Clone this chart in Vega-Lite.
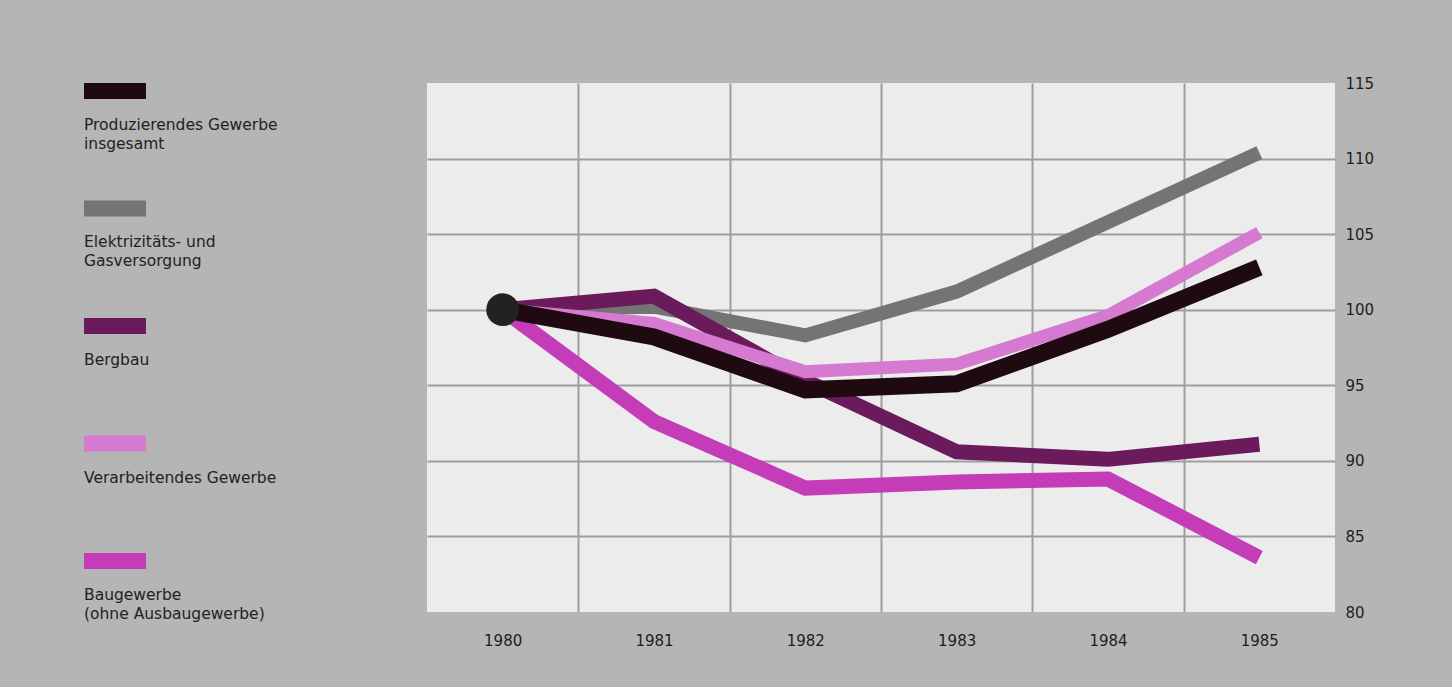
{
  "$schema": "https://vega.github.io/schema/vega-lite/v6.json",
  "background": "#b5b5b5",
  "padding": {"left": 84, "top": 76, "right": 78, "bottom": 39},
  "config": {"view": {"stroke": null}, "font": "DejaVu Sans"},
  "datasets": {
    "legend": [
      {"order": 0, "series": "Produzierendes Gewerbe insgesamt", "line1": "Produzierendes Gewerbe", "line2": "insgesamt"},
      {"order": 1, "series": "Elektrizitäts- und Gasversorgung", "line1": "Elektrizitäts- und", "line2": "Gasversorgung"},
      {"order": 2, "series": "Bergbau", "line1": "Bergbau", "line2": ""},
      {"order": 3, "series": "Verarbeitendes Gewerbe", "line1": "Verarbeitendes Gewerbe", "line2": ""},
      {"order": 4, "series": "Baugewerbe (ohne Ausbaugewerbe)", "line1": "Baugewerbe", "line2": "(ohne Ausbaugewerbe)"}
    ],
    "lines": [
      {"series": "Produzierendes Gewerbe insgesamt", "year": 1980, "value": 100},
      {"series": "Produzierendes Gewerbe insgesamt", "year": 1981, "value": 98.2},
      {"series": "Produzierendes Gewerbe insgesamt", "year": 1982, "value": 94.7},
      {"series": "Produzierendes Gewerbe insgesamt", "year": 1983, "value": 95.1},
      {"series": "Produzierendes Gewerbe insgesamt", "year": 1984, "value": 98.7},
      {"series": "Produzierendes Gewerbe insgesamt", "year": 1985, "value": 102.8},
      {"series": "Elektrizitäts- und Gasversorgung", "year": 1980, "value": 100},
      {"series": "Elektrizitäts- und Gasversorgung", "year": 1981, "value": 100.2},
      {"series": "Elektrizitäts- und Gasversorgung", "year": 1982, "value": 98.3},
      {"series": "Elektrizitäts- und Gasversorgung", "year": 1983, "value": 101.2},
      {"series": "Elektrizitäts- und Gasversorgung", "year": 1984, "value": 105.8},
      {"series": "Elektrizitäts- und Gasversorgung", "year": 1985, "value": 110.4},
      {"series": "Bergbau", "year": 1980, "value": 100},
      {"series": "Bergbau", "year": 1981, "value": 100.9},
      {"series": "Bergbau", "year": 1982, "value": 95.3},
      {"series": "Bergbau", "year": 1983, "value": 90.6},
      {"series": "Bergbau", "year": 1984, "value": 90.1},
      {"series": "Bergbau", "year": 1985, "value": 91.1},
      {"series": "Verarbeitendes Gewerbe", "year": 1980, "value": 100},
      {"series": "Verarbeitendes Gewerbe", "year": 1981, "value": 99.1},
      {"series": "Verarbeitendes Gewerbe", "year": 1982, "value": 95.9},
      {"series": "Verarbeitendes Gewerbe", "year": 1983, "value": 96.4},
      {"series": "Verarbeitendes Gewerbe", "year": 1984, "value": 99.6},
      {"series": "Verarbeitendes Gewerbe", "year": 1985, "value": 105.1},
      {"series": "Baugewerbe (ohne Ausbaugewerbe)", "year": 1980, "value": 100},
      {"series": "Baugewerbe (ohne Ausbaugewerbe)", "year": 1981, "value": 92.6},
      {"series": "Baugewerbe (ohne Ausbaugewerbe)", "year": 1982, "value": 88.2},
      {"series": "Baugewerbe (ohne Ausbaugewerbe)", "year": 1983, "value": 88.6},
      {"series": "Baugewerbe (ohne Ausbaugewerbe)", "year": 1984, "value": 88.8},
      {"series": "Baugewerbe (ohne Ausbaugewerbe)", "year": 1985, "value": 83.6}
    ]
  },
  "spacing": 43,
  "hconcat": [
    {
      "width": 300,
      "height": 529,
      "data": {"name": "legend"},
      "encoding": {
        "y": {"field": "order", "type": "quantitative", "scale": {"domain": [-0.068, 4.434], "reverse": true, "nice": false, "zero": false}, "axis": null}
      },
      "layer": [
        {
          "mark": {"type": "rect", "height": 16},
          "encoding": {
            "x": {"value": 0},
            "x2": {"value": 62},
            "color": {"field": "series", "type": "nominal", "legend": null,
              "scale": {"domain": ["Produzierendes Gewerbe insgesamt", "Elektrizitäts- und Gasversorgung", "Bergbau", "Verarbeitendes Gewerbe", "Baugewerbe (ohne Ausbaugewerbe)"],
                        "range": ["#1f0a12", "#747474", "#6b1a5c", "#d57ad0", "#c43cb8"]}}
          }
        },
        {
          "mark": {"type": "text", "align": "left", "baseline": "alphabetic", "dy": 39, "font": "DejaVu Sans", "fontSize": 15.5, "color": "#222222"},
          "encoding": {
            "x": {"value": 0},
            "text": {"field": "line1", "type": "nominal"}
          }
        },
        {
          "mark": {"type": "text", "align": "left", "baseline": "alphabetic", "dy": 58, "font": "DejaVu Sans", "fontSize": 15.5, "color": "#222222"},
          "encoding": {
            "x": {"value": 0},
            "text": {"field": "line2", "type": "nominal"}
          }
        }
      ]
    },
    {
      "width": 908,
      "height": 529,
      "view": {"fill": "#ececec", "stroke": null},
      "data": {"name": "lines"},
      "encoding": {
        "x": {"field": "year", "type": "quantitative", "scale": {"domain": [1979.5, 1985.5], "nice": false, "zero": false}, "axis": null},
        "y": {"field": "value", "type": "quantitative", "scale": {"domain": [80, 115], "nice": false, "zero": false}, "axis": null},
        "color": {"field": "series", "type": "nominal", "legend": null,
          "scale": {"domain": ["Produzierendes Gewerbe insgesamt", "Elektrizitäts- und Gasversorgung", "Bergbau", "Verarbeitendes Gewerbe", "Baugewerbe (ohne Ausbaugewerbe)"],
                    "range": ["#1f0a12", "#747474", "#6b1a5c", "#d57ad0", "#c43cb8"]}}
      },
      "layer": [
        {
          "transform": [{"filter": "datum.series == 'Elektrizitäts- und Gasversorgung'"}],
          "mark": {"type": "line", "strokeWidth": 14, "strokeCap": "butt", "strokeJoin": "miter"},
          "encoding": {
            "x": {"field": "year", "type": "quantitative", "scale": {"domain": [1979.5, 1985.5], "nice": false, "zero": false},
              "axis": {"orient": "top", "values": [1980.5, 1981.5, 1982.5, 1983.5, 1984.5], "labels": false, "ticks": false, "domain": false, "title": null, "grid": true, "gridColor": "#9d9d9d", "gridWidth": 2}},
            "y": {"field": "value", "type": "quantitative", "scale": {"domain": [80, 115], "nice": false, "zero": false},
              "axis": {"orient": "right", "values": [80, 85, 90, 95, 100, 105, 110, 115], "ticks": false, "domain": false, "title": null, "grid": true, "gridColor": "#9d9d9d", "gridWidth": 2,
                "gridOpacity": {"condition": {"test": "datum.value == 80 || datum.value == 115", "value": 0}, "value": 1},
                "labelPadding": 10, "labelFont": "DejaVu Sans", "labelFontSize": 15, "labelColor": "#1e1e1e"}}
          }
        },
        {
          "transform": [{"filter": "datum.series == 'Bergbau'"}],
          "mark": {"type": "line", "strokeWidth": 15, "strokeCap": "butt", "strokeJoin": "miter"},
          "encoding": {
            "x": {"field": "year", "type": "quantitative", "scale": {"domain": [1979.5, 1985.5], "nice": false, "zero": false},
              "axis": {"orient": "bottom", "values": [1980, 1981, 1982, 1983, 1984, 1985], "format": "d", "labelFlush": false, "ticks": false, "domain": false, "title": null, "grid": false,
                "labelPadding": 21, "labelFont": "DejaVu Sans", "labelFontSize": 15, "labelColor": "#1e1e1e"}}
          }
        },
        {
          "transform": [{"filter": "datum.series == 'Verarbeitendes Gewerbe'"}],
          "mark": {"type": "line", "strokeWidth": 13, "strokeCap": "butt", "strokeJoin": "miter"}
        },
        {
          "transform": [{"filter": "datum.series == 'Baugewerbe (ohne Ausbaugewerbe)'"}],
          "mark": {"type": "line", "strokeWidth": 15, "strokeCap": "butt", "strokeJoin": "miter"}
        },
        {
          "transform": [{"filter": "datum.series == 'Produzierendes Gewerbe insgesamt'"}],
          "mark": {"type": "line", "strokeWidth": 17, "strokeCap": "butt", "strokeJoin": "miter"}
        },
        {
          "transform": [{"filter": "datum.series == 'Produzierendes Gewerbe insgesamt' && datum.year == 1980"}],
          "mark": {"type": "circle", "size": 1075, "opacity": 1},
          "encoding": {"color": {"value": "#222222"}}
        }
      ],
      "resolve": {"axis": {"x": "independent", "y": "independent"}}
    }
  ]
}
